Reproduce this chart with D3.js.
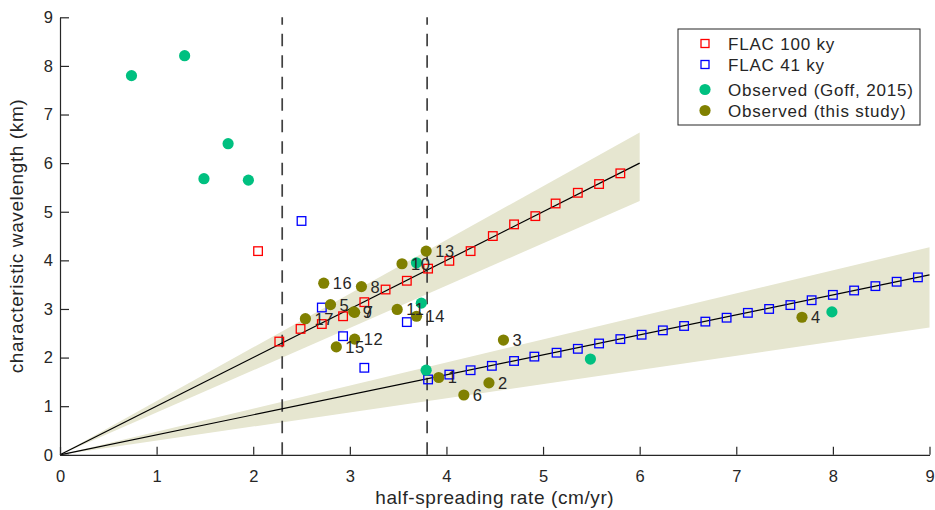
<!DOCTYPE html>
<html lang="en">
  <head>
    <meta charset="utf-8">
    <title>Wavelength vs spreading rate</title>
    <script type="text/javascript" src="https://cdn.jsdelivr.net/npm/d3@7"></script>
    <style>
      body { margin: 0; background: #fff; }
      text { font-family: "Liberation Sans", Arial, sans-serif; fill: #262626; }
    </style>
  </head>
  <body>
    <script type="text/javascript">
    // FLAC model, 100 ky
    var flac100X = [2.05, 2.27, 2.49, 2.71, 2.93, 3.15, 3.37, 3.59, 3.81, 4.03, 4.25, 4.48, 4.70, 4.92, 5.13, 5.36, 5.58, 5.80];
    var flac100Y = [4.19, 2.33, 2.59, 2.69, 2.85, 3.14, 3.40, 3.58, 3.83, 3.99, 4.19, 4.50, 4.74, 4.91, 5.17, 5.39, 5.57, 5.79];

    // FLAC model, 41 ky
    var flac41X = [2.50, 2.71, 2.93, 3.15, 3.59, 3.81, 4.03, 4.25, 4.47, 4.70, 4.91, 5.14, 5.36, 5.58, 5.80, 6.02, 6.24, 6.46,
                   6.68, 6.90, 7.12, 7.34, 7.56, 7.78, 8.00, 8.22, 8.44, 8.66, 8.88];
    var flac41Y = [4.81, 3.03, 2.44, 1.79, 2.73, 1.55, 1.65, 1.74, 1.83, 1.93, 2.02, 2.10, 2.18, 2.29, 2.38, 2.47, 2.56, 2.65,
                   2.74, 2.82, 2.92, 3.00, 3.08, 3.18, 3.29, 3.38, 3.47, 3.56, 3.65];

    // Observed (Goff, 2015)
    var goffX = [0.74, 1.29, 1.74, 1.49, 1.95, 3.69, 3.74, 3.79, 5.49, 7.99];
    var goffY = [7.80, 8.21, 6.40, 5.68, 5.65, 3.95, 3.12, 1.74, 1.97, 2.94];

    // Observed (this study), labelled 1..17
    var studyX = [3.92, 4.44, 4.59, 7.68, 2.80, 4.18, 3.05, 3.12, 3.04, 3.54, 3.49, 3.05, 3.79, 3.69, 2.86, 2.73, 2.54];
    var studyY = [1.59, 1.48, 2.36, 2.83, 3.09, 1.23, 2.93, 3.46, 2.94, 3.93, 2.99, 2.38, 4.19, 2.85, 2.22, 3.53, 2.80];
    var studyLabels = ["1", "2", "3", "4", "5", "6", "7", "8", "9", "10", "11", "12", "13", "14", "15", "16", "17"];

    // fit lines and envelopes: [xEnd, yFit, yLow, yHigh]
    var fit100 = [6, 6.0, 5.22, 6.63];
    var fit41 = [9, 3.70, 2.62, 4.27];

    // window spreading rates
    var dashX = [2.3, 3.8];

    var xTicks = [0, 1, 2, 3, 4, 5, 6, 7, 8, 9];
    var yTicks = [0, 1, 2, 3, 4, 5, 6, 7, 8, 9];

    var legendNames = ["FLAC 100 ky", "FLAC 41 ky", "Observed (Goff, 2015)", "Observed (this study)"];

    var w = 935;
    var h = 510;

    var red = "#ff0000", blue = "#0000ff", green = "#00c080", olive = "#808000", band = "#e6e6d0";

    var svg = d3.select("body")
                .append("svg")
                .attr("width", w)
                .attr("height", h);

    var x = d3.scaleLinear().domain([0, 9]).range([60, 929.5]);
    var y = d3.scaleLinear().domain([0, 9]).range([454.8, 17.3]);

    // envelopes
    var area = function(f) {
      return [[0, 0], [f[0], f[3]], [f[0], f[2]]].map(function(p) { return [x(p[0]), y(p[1])]; });
    };
    [fit100, fit41].forEach(function(f) {
      svg.append("polygon")
         .attr("points", area(f).join(" "))
         .attr("fill", band);
    });

    // dashed lines
    svg.selectAll(".dash")
       .data(dashX)
       .enter()
       .append("line")
       .attr("x1", function(d) { return x(d); })
       .attr("x2", function(d) { return x(d); })
       .attr("y1", y(0))
       .attr("y2", y(9))
       .attr("stroke", "#404040")
       .attr("stroke-width", 1.7)
       .attr("stroke-dasharray", "12.5,9");

    // fit lines
    [fit100, fit41].forEach(function(f) {
      svg.append("line")
         .attr("x1", x(0)).attr("y1", y(0))
         .attr("x2", x(f[0])).attr("y2", y(f[1]))
         .attr("stroke", "#000")
         .attr("stroke-width", 1.2);
    });

    // axes
    var xAxis = d3.axisBottom(x).tickValues(xTicks).tickSizeInner(-8).tickSizeOuter(0).tickPadding(15);
    var yAxis = d3.axisLeft(y).tickValues(yTicks).tickSizeInner(-9).tickSizeOuter(0).tickPadding(7);

    var gx = svg.append("g").attr("transform", "translate(0," + y(0) + ")").call(xAxis);
    var gy = svg.append("g").attr("transform", "translate(" + x(0) + ",0)").call(yAxis);
    [gx, gy].forEach(function(g) {
      g.selectAll("path, line").attr("stroke", "#262626").attr("stroke-width", 1.2);
      g.selectAll("text").attr("font-size", 16.5).attr("fill", "#262626")
       .attr("font-family", "Liberation Sans, Arial, sans-serif");
    });

    // squares
    var squares = function(xs, ys, color) {
      svg.append("g").selectAll("rect")
         .data(xs)
         .enter()
         .append("rect")
         .attr("x", function(d) { return x(d) - 4.3; })
         .attr("y", function(d, i) { return y(ys[i]) - 4.3; })
         .attr("width", 8.6)
         .attr("height", 8.6)
         .attr("fill", "none")
         .attr("stroke", color)
         .attr("stroke-width", 1.3);
    };
    squares(flac100X, flac100Y, red);
    squares(flac41X, flac41Y, blue);

    // circles
    var dots = function(xs, ys, color) {
      svg.append("g").selectAll("circle")
         .data(xs)
         .enter()
         .append("circle")
         .attr("cx", function(d) { return x(d); })
         .attr("cy", function(d, i) { return y(ys[i]); })
         .attr("r", 5.6)
         .attr("fill", color);
    };
    dots(goffX, goffY, green);
    dots(studyX, studyY, olive);

    // point labels
    svg.append("g").selectAll("text")
       .data(studyLabels)
       .enter()
       .append("text")
       .attr("x", function(d, i) { return x(studyX[i]) + 9; })
       .attr("y", function(d, i) { return y(studyY[i]); })
       .attr("dy", "0.36em")
       .attr("font-size", 16.5)
       .attr("letter-spacing", 0.6)
       .attr("fill", "#1a1a1a")
       .text(function(d) { return d; });

    // axis titles
    svg.append("text")
       .attr("x", (x(0) + x(9)) / 2)
       .attr("y", 504)
       .attr("text-anchor", "middle")
       .attr("font-size", 19)
       .attr("letter-spacing", 0.6)
       .text("half-spreading rate (cm/yr)");

    svg.append("text")
       .attr("transform", "translate(23," + (y(0) + y(9)) / 2 + ") rotate(-90)")
       .attr("text-anchor", "middle")
       .attr("font-size", 19)
       .attr("letter-spacing", 0.6)
       .text("characteristic wavelength (km)");

    // legend
    var legend = svg.append("g");
    legend.append("rect")
          .attr("x", 678).attr("y", 29)
          .attr("width", 242).attr("height", 96)
          .attr("fill", "#fff")
          .attr("stroke", "#262626")
          .attr("stroke-width", 1);
    var rowY = [43.5, 64.5, 89.5, 110.5];
    var rowColor = [red, blue, green, olive];
    legendNames.forEach(function(name, i) {
      if (i < 2) {
        legend.append("rect")
              .attr("x", 701).attr("y", rowY[i] - 4)
              .attr("width", 8).attr("height", 8)
              .attr("fill", "none")
              .attr("stroke", rowColor[i])
              .attr("stroke-width", 1.3);
      } else {
        legend.append("circle")
              .attr("cx", 705).attr("cy", rowY[i])
              .attr("r", 5.6)
              .attr("fill", rowColor[i]);
      }
      legend.append("text")
            .attr("x", 728).attr("y", rowY[i])
            .attr("dy", "0.36em")
            .attr("font-size", 17)
            .attr("letter-spacing", 0.8)
            .attr("fill", "#000")
            .text(name);
    });
    </script>
  </body>
</html>
